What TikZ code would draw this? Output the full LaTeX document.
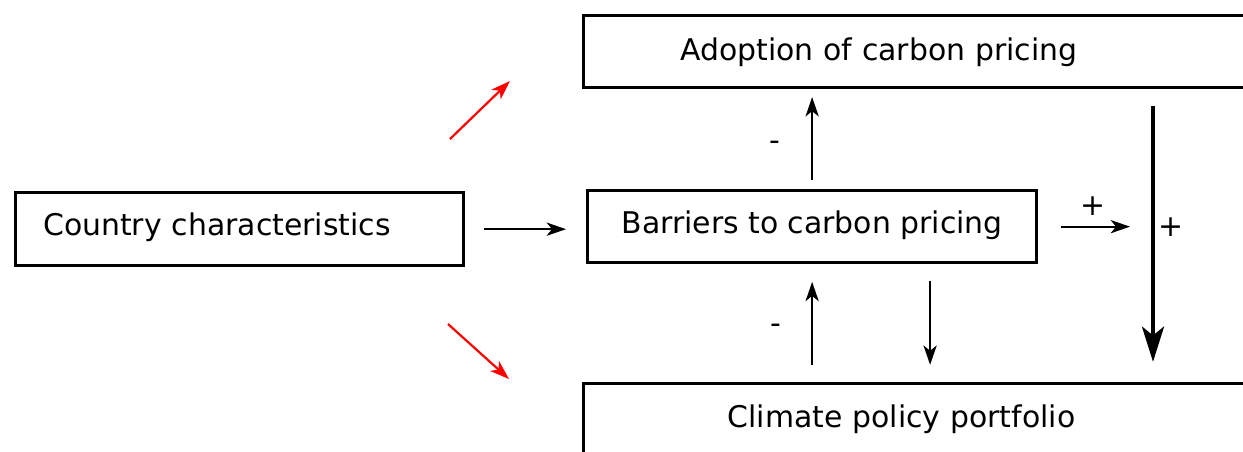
\documentclass[tikz,border=0pt]{standalone}
\usepackage{fontspec}
\setmainfont{DejaVu Sans}
\usetikzlibrary{arrows.meta,positioning}

\tikzset{
  box/.style={draw, line width=1.9pt, inner ysep=0pt, font=\fontsize{17}{20}\selectfont},
  link/.style={-{Stealth[length=11pt,width=7.5pt,inset=3pt]}, line width=1.25pt},
  redlink/.style={link, draw=red},
  biglink/.style={-{Stealth[length=20pt,width=12.5pt,inset=5pt]}, line width=2.4pt},
  sign/.style={inner sep=0pt, font=\fontsize{17}{20}\selectfont},
}

\begin{document}
\begin{tikzpicture}[x=0.02cm, y=-0.02cm]
  \useasboundingbox (0,0) rectangle (1243,451);
  \clip (0,0) rectangle (1243,451);

  % boxes
  \node[box, anchor=north west, text width=7.86cm, align=left, inner xsep=0.55cm,
        text height=0.85cm, text depth=0.61cm] (country) at (14,191) {Country characteristics};
  \node[box, anchor=north west, minimum width=8.98cm, inner xsep=0pt,
        text height=0.856cm, text depth=0.584cm] (barriers) at (586,189) {Barriers to carbon pricing};
  \node[box, anchor=north west, text width=11cm, align=left, inner xsep=1.93cm,
        text height=0.904cm, text depth=0.536cm] (adoption) at (582,14) {Adoption of carbon pricing};
  \node[box, anchor=north west, text width=11cm, align=left, inner xsep=2.88cm,
        text height=0.874cm, text depth=2cm] (climate) at (582,381.8) {Climate policy portfolio};

  \coordinate (rail) at (1153,227);
  \coordinate (redA1) at (450,139);
  \coordinate (redA2) at (510,81);
  \coordinate (redB1) at (448,324);
  \coordinate (redB2) at (509,379);

  % arrows
  \draw[link, shorten <=0.37cm, shorten >=0.4cm] (country.east) -- (country.east -| barriers.west);
  \draw[link, shorten <=0.18cm, shorten >=0.155cm] (barriers.north) -- (barriers.north |- adoption.south);
  \draw[link, shorten <=0.34cm, shorten >=0.35cm] (barriers.south |- climate.north) -- (barriers.south);
  \draw[link, shorten <=0.33cm, shorten >=0.34cm] ([xshift=2.36cm]barriers.south) -- ([xshift=2.36cm]barriers.south |- climate.north);
  \draw[link, shorten <=0.46cm, shorten >=0.46cm] (barriers.east) -- (barriers.east -| rail);
  \draw[biglink, shorten <=0.33cm, shorten >=0.4cm] (adoption.south -| rail) -- (climate.north -| rail);
  \draw[redlink] (redA1) -- (redA2);
  \draw[redlink] (redB1) -- (redB2);

  % signs
  \node[sign, anchor=base] (minusup) at (775,150) {-};
  \node[sign, anchor=base] (minusdown) at (776,333.5) {-};
  \node[sign] (plusright) at (1093,206.5) {+};
  \node[sign] (plusdown) at (1171,227) {+};
\end{tikzpicture}
\end{document}
